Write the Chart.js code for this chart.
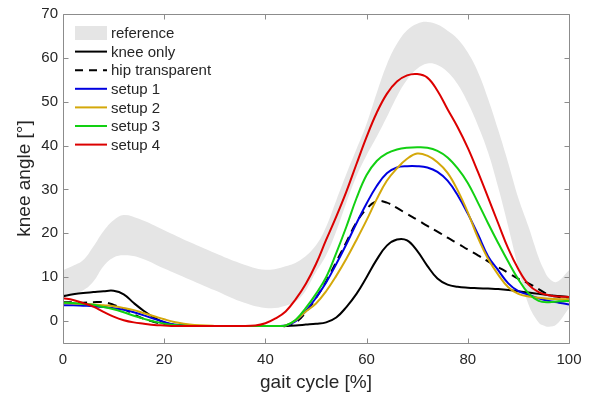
<!DOCTYPE html>
<html>
<head>
<meta charset="utf-8">
<script src="https://cdn.jsdelivr.net/npm/chart.js@4.4.1/dist/chart.umd.min.js"></script>
<style>
  html, body { margin: 0; padding: 0; background: #fff; }
  #kneeChart { display: block; }
</style>
</head>
<body>
<canvas id="kneeChart" width="603" height="394"></canvas>
<script>
// reference band (mean +/- sd)
const refX     = [0, 2, 4, 6, 8, 10, 12, 15, 20, 25, 30, 35, 40, 44, 47, 50, 52, 54, 56, 58, 60, 62, 64, 66, 68, 70, 72, 74, 76, 78, 80, 82, 84, 86, 88, 90, 92, 94, 95, 96, 97.5, 100];
const refUpper = [11.6, 12.6, 13.9, 17, 20.5, 23, 24.2, 23.3, 20.7, 18, 15.5, 13.2, 11.7, 12.5, 14, 17.3, 21.5, 27.5, 33.5, 39.2, 45, 52, 58.5, 63.2, 66.3, 67.8, 68.2, 67.6, 66.2, 64.3, 61.2, 56.8, 50.7, 43.6, 36, 28, 21.5, 14.5, 11.8, 9.8, 8.9, 11.6];
const refLower = [6, 6.3, 7, 9, 12.5, 14.5, 15, 14.5, 12, 9.5, 7, 4.5, 3, 3.5, 5.5, 11.2, 15, 20.5, 27, 33, 37.8, 42, 46.5, 51.2, 55, 57.5, 58.7, 58.4, 56.8, 54, 49.8, 44.6, 38.5, 30.5, 21.5, 12, 3.8, -0.3, -1, -1.3, -0.8, 3];

// measured curves, gait cycle [%]
const gaitX = [0, 2, 4, 6, 8, 10, 12, 14, 16, 18, 20, 22, 25, 30, 35, 38, 40, 42, 44, 46, 48, 50, 52, 54, 56, 58, 60, 62, 64, 66, 68, 70, 72, 74, 76, 78, 80, 82, 84, 86, 88, 90, 92, 94, 96, 98, 100];
const kneeOnly = [5.7, 6.1, 6.4, 6.6, 6.8, 6.9, 6.1, 4.1, 2.3, 0.8, -0.3, -0.9, -1.1, -1.1, -1.1, -1.1, -1.1, -1.1, -1.1, -1.0, -0.8, -0.6, -0.3, 0.8, 3.2, 6.2, 10, 14, 17.2, 18.6, 18.4, 16, 12.6, 9.7, 8.3, 7.8, 7.6, 7.5, 7.4, 7.3, 7.1, 6.8, 6.5, 6.2, 5.9, 5.7, 5.5];
const hipTransparent = [4.3, 4.3, 4.2, 4.3, 4.3, 3.7, 2.8, 1.5, 0.5, -0.2, -0.7, -1.0, -1.1, -1.1, -1.1, -1.1, -1.1, -1.1, -1.1, -0.3, 2, 5.3, 9, 13.5, 18, 22.5, 25.6, 27.3, 27, 25.8, 24.4, 23.1, 21.7, 20.4, 19, 17.7, 16.3, 15, 13.6, 12.3, 11, 9.6, 8.6, 7.3, 6, 5.5, 5.3];
const setup1 = [3.6, 3.6, 3.5, 3.4, 3.2, 2.9, 2.6, 2.0, 1.3, 0.5, -0.2, -0.8, -1.1, -1.1, -1.1, -1.1, -1.1, -1.1, -1.0, 0, 2.3, 5.3, 8.8, 13, 17.5, 22.3, 26.8, 30.8, 33.7, 35, 35.3, 35.3, 35, 34, 32, 28.7, 24.5, 19.8, 14.8, 11.6, 8.6, 6.8, 6, 5.2, 4.6, 4.2, 3.8];
const setup2 = [4.1, 4.0, 3.9, 3.8, 3.6, 3.4, 3.0, 2.5, 1.8, 1.1, 0.4, -0.2, -0.8, -1.1, -1.1, -1.1, -1.1, -1.1, -1.0, 0.2, 2.2, 4.0, 6.8, 10.3, 14.2, 18.5, 23, 27.8, 32, 34.8, 37, 38.2, 37.7, 36.2, 33.8, 29.8, 24.8, 19, 14.2, 10.6, 7.7, 6.2, 5.6, 5.3, 5.1, 5.0, 5.0];
const setup3 = [4.2, 4.1, 3.9, 3.7, 3.2, 2.7, 2.0, 1.2, 0.5, -0.1, -0.6, -0.9, -1.1, -1.1, -1.1, -1.1, -1.1, -1.1, -1.0, 0.3, 3, 6.2, 10, 15.5, 21.5, 28, 33.3, 36.5, 38.2, 39.1, 39.5, 39.6, 39.5, 38.8, 37.3, 34.8, 31.5, 27, 22.3, 17.8, 13.5, 9.5, 6.3, 4.6, 4.3, 4.5, 4.6];
const setup4 = [5.2, 4.8, 4.1, 3.3, 2.1, 1.0, 0.2, -0.3, -0.6, -0.9, -1.0, -1.1, -1.1, -1.1, -1.1, -1.0, -0.5, 0.6, 2.2, 5, 8.5, 13, 18.5, 23.8, 29.5, 35.8, 42, 47.5, 51.8, 54.6, 56, 56.3, 55.5, 52.5, 48.3, 44.2, 39.5, 34, 28.2, 22.3, 16.5, 11.8, 8.3, 6.6, 5.9, 5.6, 5.5];

const xTicks = [0, 20, 40, 60, 80, 100];
const yTicks = [0, 10, 20, 30, 40, 50, 60, 70];
const legendLabels = ['reference', 'knee only', 'hip transparent', 'setup 1', 'setup 2', 'setup 3', 'setup 4'];

const bandColor = '#e5e5e5';
const lineColors = ['#000000', '#000000', '#0000e0', '#d4a80a', '#12d012', '#dc0000'];
const axisColor = '#8c8c8c';
const textColor = '#262626';
const fontFamily = "'Liberation Sans', Arial, Helvetica, sans-serif";

function toPoints(xs, ys) {
    return xs.map(function(x, i) { return { x: x, y: ys[i] }; });
}

function curve(label, ys, color, order, dash) {
    return {
        label: label,
        data: toPoints(gaitX, ys),
        borderColor: color,
        borderWidth: 2,
        borderDash: dash || [],
        pointRadius: 0,
        fill: false,
        tension: 0.4,
        order: order
    };
}

// draws the box round the plot with inward ticks, like the original figure
const axesBox = {
    id: 'axesBox',
    afterDatasetsDraw: function(chart) {
        const ctx = chart.ctx;
        const a = chart.chartArea;
        const xs = chart.scales.x;
        const ys = chart.scales.y;
        const L = Math.round(a.left) + 0.5, R = Math.round(a.right) + 0.5;
        const T = Math.round(a.top) + 0.5, B = Math.round(a.bottom) + 0.5;
        ctx.save();
        ctx.strokeStyle = axisColor;
        ctx.lineWidth = 1;
        ctx.beginPath();
        ctx.rect(L, T, R - L, B - T);
        xTicks.forEach(function(v) {
            const px = Math.round(xs.getPixelForValue(v)) + 0.5;
            ctx.moveTo(px, B); ctx.lineTo(px, B - 5);
            ctx.moveTo(px, T); ctx.lineTo(px, T + 5);
        });
        yTicks.forEach(function(v) {
            const py = Math.round(ys.getPixelForValue(v)) + 0.5;
            ctx.moveTo(L, py); ctx.lineTo(L + 5, py);
            ctx.moveTo(R, py); ctx.lineTo(R - 5, py);
        });
        ctx.stroke();
        ctx.restore();
    }
};

// legend inside the plot, top left, no frame
const insideLegend = {
    id: 'insideLegend',
    afterDraw: function(chart) {
        const ctx = chart.ctx;
        const x0 = 75, x1 = 107, top = 33, step = 18.6;
        ctx.save();
        ctx.font = '15px ' + fontFamily;
        ctx.textBaseline = 'middle';
        ctx.fillStyle = textColor;
        legendLabels.forEach(function(label, i) {
            const y = top + i * step;
            if (i === 0) {
                ctx.fillStyle = bandColor;
                ctx.fillRect(x0, y - 7, x1 - x0, 14);
            } else {
                ctx.strokeStyle = lineColors[i - 1];
                ctx.lineWidth = 2;
                ctx.setLineDash(i === 2 ? [8, 6] : []);
                ctx.beginPath();
                ctx.moveTo(x0, y);
                ctx.lineTo(x1, y);
                ctx.stroke();
                ctx.setLineDash([]);
            }
            ctx.fillStyle = textColor;
            ctx.fillText(label, x1 + 4, y + 1);
        });
        ctx.restore();
    }
};

const datasets = [
    {
        label: 'reference',
        data: toPoints(refX, refUpper),
        borderWidth: 0,
        borderColor: bandColor,
        backgroundColor: bandColor,
        pointRadius: 0,
        fill: '+1',
        tension: 0.4,
        order: 20
    },
    {
        label: 'reference lower',
        data: toPoints(refX, refLower),
        borderWidth: 0,
        borderColor: bandColor,
        pointRadius: 0,
        fill: false,
        tension: 0.4,
        order: 21
    },
    curve('knee only', kneeOnly, lineColors[0], 10),
    curve('hip transparent', hipTransparent, lineColors[1], 9, [9, 6]),
    curve('setup 1', setup1, lineColors[2], 8),
    curve('setup 2', setup2, lineColors[3], 7),
    curve('setup 3', setup3, lineColors[4], 6),
    curve('setup 4', setup4, lineColors[5], 5)
];

const ctx = document.getElementById('kneeChart').getContext('2d');
new Chart(ctx, {
    type: 'line',
    data: { datasets: datasets },
    plugins: [axesBox, insideLegend],
    options: {
        responsive: false,
        animation: false,
        devicePixelRatio: 1,
        layout: { padding: { top: 14, right: 34, left: 0, bottom: 0 } },
        plugins: {
            legend: { display: false },
            tooltip: { enabled: false }
        },
        scales: {
            x: {
                type: 'linear',
                min: 0,
                max: 100,
                grid: { display: false, drawTicks: false },
                border: { display: false },
                afterBuildTicks: function(scale) {
                    scale.ticks = xTicks.map(function(v) { return { value: v }; });
                },
                afterFit: function(scale) { scale.height = 51; },
                ticks: {
                    padding: 8,
                    maxRotation: 0,
                    color: textColor,
                    font: { family: fontFamily, size: 15 }
                },
                title: {
                    display: true,
                    text: 'gait cycle [%]',
                    color: textColor,
                    padding: { top: 0, bottom: 0 },
                    font: { family: fontFamily, size: 19 }
                }
            },
            y: {
                type: 'linear',
                min: -5,
                max: 70,
                grid: { display: false, drawTicks: false },
                border: { display: false },
                afterBuildTicks: function(scale) {
                    scale.ticks = yTicks.map(function(v) { return { value: v }; });
                },
                afterFit: function(scale) { scale.width = 63; },
                ticks: {
                    padding: 5,
                    color: textColor,
                    font: { family: fontFamily, size: 15 }
                },
                title: {
                    display: true,
                    text: 'knee angle [°]',
                    color: textColor,
                    padding: { top: 13, bottom: 0 },
                    font: { family: fontFamily, size: 19 }
                }
            }
        }
    }
});
</script>
</body>
</html>
